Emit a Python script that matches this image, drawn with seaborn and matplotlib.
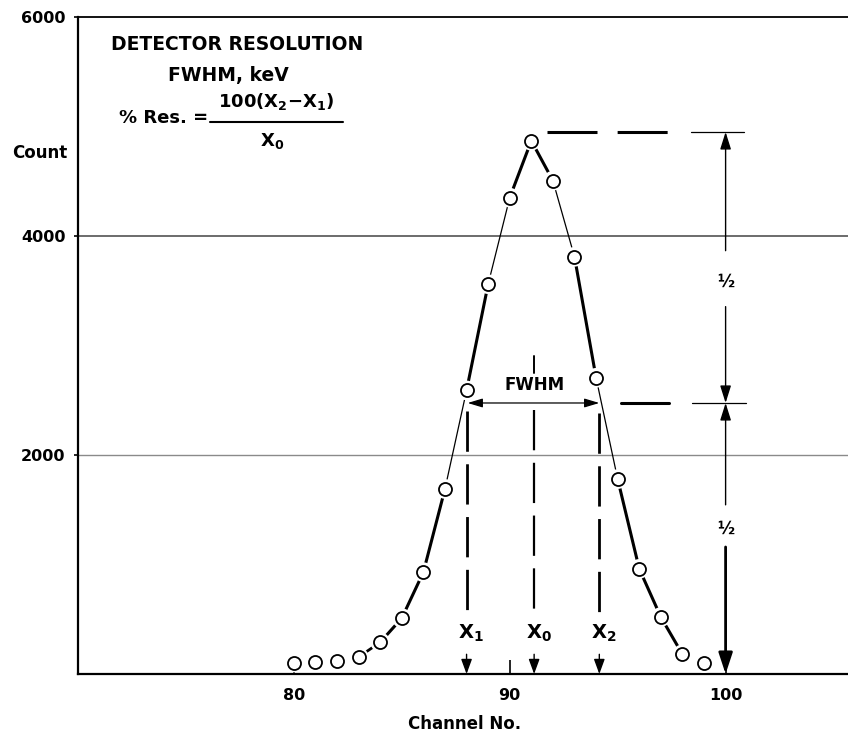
import matplotlib
matplotlib.use("Agg")
import matplotlib.pyplot as plt
from matplotlib.lines import Line2D
import pandas as pd
import seaborn as sns

# ---------------- data ----------------
channels = [80, 81, 82, 83, 84, 85, 86, 87, 88, 89,
            90, 91, 92, 93, 94, 95, 96, 97, 98, 99]
counts = [105, 110, 120, 155, 290, 510, 930, 1690, 2590, 3560,
          4350, 4870, 4505, 3810, 2705, 1780, 960, 520, 180, 100]
# line width of the hand-drawn curve between consecutive points (0 = no line)
segment_widths = [0, 0, 0, 2.0, 2.2, 2.2, 2.2, 0.9, 2.2, 0.9,
                  2.2, 2.2, 0.9, 2.2, 0.9, 2.2, 2.2, 2.2, 0]

x_ticks = [80, 90, 100]
x_tick_labels = ["80", "90", "100"]
y_ticks = [2000, 4000, 6000]
y_tick_labels = ["2000", "4000", "6000"]

fwhm_x1 = 88.0
fwhm_x0 = 91.13
fwhm_x2 = 94.15
peak_count = 4950
half_count = peak_count / 2
dim_x = 100.0

# ---------------- style ----------------
sns.set_theme(style="white")
plt.rcParams['font.family'] = ['DejaVu Sans']
plt.rcParams['font.weight'] = 'bold'
plt.rcParams['mathtext.fontset'] = 'dejavusans'
plt.rcParams['lines.scale_dashes'] = False

W, H = 848, 734
fig = plt.figure(figsize=(W / 100, H / 100), dpi=100)
ax = fig.add_axes([78 / W, 1 - 674 / H, 770 / W, (674 - 17) / H])

def fx(px):
    return px / W

def fy(py):
    return 1 - py / H

df = pd.DataFrame({"Channel": channels, "Count": counts})

# grid lines
ax.axhline(4000, color='#444444', lw=1.1, zorder=0)
ax.axhline(2000, color='#8a8a8a', lw=1.0, zorder=0)

# curve segments
for i, w in enumerate(segment_widths):
    if w > 0:
        sns.lineplot(x=channels[i:i + 2], y=counts[i:i + 2], ax=ax,
                     color='black', lw=w, zorder=2, estimator=None)

# markers with white halo
sns.scatterplot(data=df, x="Channel", y="Count", s=200, color='white',
                edgecolor='none', linewidth=0, zorder=3, ax=ax)
sns.scatterplot(data=df, x="Channel", y="Count", s=88, color='white',
                edgecolor='black', linewidth=1.3, zorder=4, ax=ax)

ax.set_xlim(70, 105.67)
ax.set_ylim(0, 6000)
ax.set_xticks(x_ticks)
ax.set_xticklabels(x_tick_labels)
ax.set_yticks(y_ticks)
ax.set_yticklabels(y_tick_labels)
ax.tick_params(axis='x', direction='in', length=10, width=1.2, pad=10,
               labelsize=11.5, colors='black', bottom=True)
ax.tick_params(axis='y', direction='out', length=3, width=1.2, pad=6,
               labelsize=11.5, colors='black', left=True)
for lab in ax.get_xticklabels() + ax.get_yticklabels():
    lab.set_fontweight('bold')

for s in ['left', 'bottom', 'top']:
    ax.spines[s].set_visible(True)
    ax.spines[s].set_color('black')
ax.spines['left'].set_linewidth(1.6)
ax.spines['bottom'].set_linewidth(1.6)
ax.spines['top'].set_linewidth(1.3)
ax.spines['right'].set_visible(False)

ax.set_xlabel("Channel No.", fontsize=12, fontweight='bold', color='black')
ax.xaxis.set_label_coords((465 - 78) / 770, (674 - 724) / 657)
ax.xaxis.label.set_va('center')
ax.set_ylabel("Count", rotation=0, fontsize=12, fontweight='bold',
              color='black', ha='right', va='center')
ax.yaxis.set_label_coords((67 - 78) / 770, (674 - 153) / 657)

# ---------------- annotations ----------------
dash_v = (0, (29, 9))
# vertical dashed guides
ax.plot([fwhm_x1, fwhm_x1], [2400, 560], color='black', lw=2.0, ls=dash_v, zorder=1)
ax.plot([fwhm_x2, fwhm_x2], [2380, 520], color='black', lw=2.0, ls=dash_v, zorder=1)
ax.plot([fwhm_x0, fwhm_x0], [2900, 2745], color='black', lw=1.4, zorder=1)
ax.plot([fwhm_x0, fwhm_x0], [2410, 490], color='black', lw=1.6, ls=dash_v, zorder=1)

# FWHM double arrow
ax.annotate('', xy=(fwhm_x1 + 0.05, half_count), xytext=(fwhm_x2, half_count),
            arrowprops=dict(arrowstyle='<|-|>,head_length=0.6,head_width=0.18',
                            mutation_scale=15, lw=0.9, color='black',
                            shrinkA=0, shrinkB=0), zorder=5)
ax.text(fwhm_x0, 2642, "FWHM", ha='center', va='center', fontsize=12,
        fontweight='bold', color='black')

# X labels and small arrows
for xv, lab in [(fwhm_x1, r"$\mathbf{X_1}$"), (fwhm_x0, r"$\mathbf{X_0}$"),
                (fwhm_x2, r"$\mathbf{X_2}$")]:
    ax.text(xv + 0.22, 375, lab, ha='center', va='center', fontsize=14,
            color='black')
    ax.annotate('', xy=(xv, 0), xytext=(xv, 180),
                arrowprops=dict(arrowstyle='-|>,head_length=0.6,head_width=0.22',
                                mutation_scale=15, lw=1.0, color='black',
                                shrinkA=0, shrinkB=0))

# horizontal guides at peak and half max
ax.plot([91.71, 97.36], [peak_count, peak_count], color='black', lw=2.2,
        ls=(0, (36, 14.5)), zorder=1)
ax.plot([98.38, 100.83], [peak_count, peak_count], color='black', lw=0.9, zorder=1)
ax.plot([95.17, 97.36], [half_count, half_count], color='black', lw=2.2, zorder=1)
ax.plot([98.45, 100.96], [half_count, half_count], color='black', lw=0.9, zorder=1)

# vertical dimension arrows at the right
thin = dict(arrowstyle='-|>,head_length=0.7,head_width=0.22', mutation_scale=15,
            lw=1.0, color='black', shrinkA=0, shrinkB=0)
ax.annotate('', xy=(dim_x, peak_count), xytext=(dim_x, 3866), arrowprops=thin)
ax.annotate('', xy=(dim_x, half_count), xytext=(dim_x, 3355), arrowprops=thin)
ax.annotate('', xy=(dim_x, half_count), xytext=(dim_x, 1545), arrowprops=thin)
ax.annotate('', xy=(dim_x, 0), xytext=(dim_x, 1160),
            arrowprops=dict(arrowstyle='-|>,head_length=0.85,head_width=0.28',
                            mutation_scale=15, lw=2.0, color='black',
                            shrinkA=0, shrinkB=0))
ax.text(dim_x, 3583, "½", ha='center', va='center', fontsize=12,
        fontweight='bold', color='black')
ax.text(dim_x, 1325, "½", ha='center', va='center', fontsize=12,
        fontweight='bold', color='black')

# ---------------- text block ----------------
fig.text(fx(237), fy(45), "DETECTOR RESOLUTION", ha='center', va='center',
         fontsize=13.5, fontweight='bold', color='black')
fig.text(fx(228), fy(75), "FWHM, keV", ha='center', va='center',
         fontsize=13.5, fontweight='bold', color='black')
fig.text(fx(208), fy(118), "% Res. =", ha='right', va='center',
         fontsize=13, fontweight='bold', color='black')
fig.text(fx(276), fy(101), r"$\mathbf{100(X_2{-}X_1)}$", ha='center', va='center',
         fontsize=13, color='black')
fig.text(fx(272), fy(141), r"$\mathbf{X_0}$", ha='center', va='center',
         fontsize=13, color='black')
fig.add_artist(Line2D([fx(210), fx(343)], [fy(122), fy(122)], color='black',
                      lw=1.5, transform=fig.transFigure))

fig.savefig("out.png", dpi=100)
